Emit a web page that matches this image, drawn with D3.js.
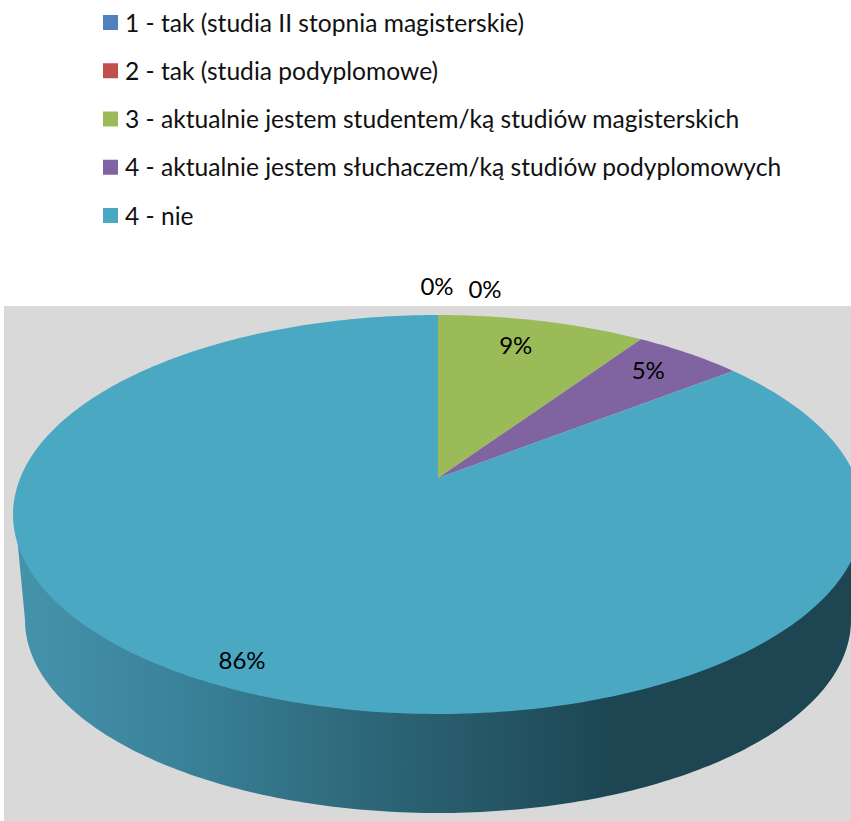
<!DOCTYPE html>
<html lang="pl">
<head>
    <meta charset="UTF-8">
    <title>Wykres kołowy</title>
    <script src="https://d3js.org/d3.v7.min.js"></script>
    <style>
        html, body { margin: 0; padding: 0; background: #fff; overflow: hidden; }
        svg { display: block; }
        text { font-family: Lato, "Open Sans", sans-serif; fill: #000; }
        .legend text { font-size: 24.6px; fill: #111; }
        .label { font-size: 24px; text-anchor: middle; }
    </style>
</head>
<body>
    <svg width="851" height="821"></svg>

    <script>
        // data
        const categories = [
            "1 - tak (studia II stopnia magisterskie)",
            "2 - tak (studia podyplomowe)",
            "3 - aktualnie jestem studentem/ką studiów magisterskich",
            "4 - aktualnie jestem słuchaczem/ką studiów podyplomowych",
            "4 - nie"
        ];
        const values = [0, 0, 9.45, 4.95, 85.6];
        const colors = ["#4f81bd", "#c0504d", "#9bbb59", "#8064a2", "#4aa8c3"];

        const svg = d3.select("svg");

        // legend
        const legendY = d3.scalePoint().domain(categories).range([22.5, 215.5]);
        const legend = svg.append("g").attr("class", "legend");
        categories.forEach((c, i) => {
            legend.append("rect")
                .attr("x", 103).attr("y", legendY(c) - 7.5)
                .attr("width", 15).attr("height", 15)
                .attr("fill", colors[i]);
            legend.append("text")
                .attr("x", 125).attr("y", legendY(c) + 9)
                .text(c);
        });

        // plot area
        svg.append("rect")
            .attr("x", 4).attr("y", 306)
            .attr("width", 847).attr("height", 515)
            .attr("fill", "#d9d9d9");

        // the pie is seen in perspective: the apex sits above the centre of the rim ellipse
        const cx = 438, apexY = 478;
        const k = -0.183, a = 417.8, b = 192.8;
        function project(t, r) {
            const X = r * Math.sin(t), Y = -r * Math.cos(t);
            const w = 1 + k * Y;
            return [cx + a * X / w, apexY + b * Y / w];
        }

        const line = d3.line();

        // side wall, its top tucked under the rim so no seam shows
        const rimCy = 515, rimRx = 423, rimRy = 198;
        const baseCy = 620, baseRx = 413, baseRy = 193;
        const sweep = d3.range(0, 181).map(d => d * Math.PI / 180);
        const wall = sweep.map(s => [cx + rimRx * Math.cos(s), rimCy + rimRy * Math.sin(s)])
            .concat(sweep.slice().reverse().map(s => [cx + baseRx * Math.cos(s), baseCy + baseRy * Math.sin(s)]));

        const grad = svg.append("defs").append("linearGradient")
            .attr("id", "wallFill")
            .attr("gradientUnits", "userSpaceOnUse")
            .attr("x1", 13).attr("x2", 851).attr("y1", 0).attr("y2", 0);
        [[0, "#4594ac"], [0.2, "#3a8299"], [0.4, "#2e6a7c"], [0.72, "#1d4552"], [1, "#1d4552"]].forEach(s => {
            grad.append("stop").attr("offset", s[0]).attr("stop-color", s[1]);
        });

        svg.append("path")
            .attr("d", line(wall) + "Z")
            .attr("fill", "url(#wallFill)");

        // top face
        const arcs = d3.pie().sort(null)(values);

        function slicePath(d) {
            const n = Math.max(2, Math.ceil((d.endAngle - d.startAngle) * 60));
            const rim = d3.range(n + 1).map(i => project(d.startAngle + (d.endAngle - d.startAngle) * i / n, 1));
            return line([project(0, 0)].concat(rim)) + "Z";
        }

        svg.selectAll(".slice")
            .data(arcs)
            .enter().append("path")
            .attr("class", "slice")
            .attr("d", slicePath)
            .attr("fill", (d, i) => colors[i]);

        // data labels, placed by radius along the middle of each slice
        const fmt = d3.format(".0%");
        const labelPlace = [
            { r: 1.12, dx: -1, dy: -12 },
            { r: 1.1, dx: 47, dy: -11 },
            { r: 0.8, dx: -8, dy: -3 },
            { r: 0.82, dx: 0, dy: -3 },
            { r: 0.9, dx: -3, dy: 0 }
        ];
        svg.selectAll(".label")
            .data(arcs)
            .enter().append("text")
            .attr("class", "label")
            .attr("x", (d, i) => project((d.startAngle + d.endAngle) / 2, labelPlace[i].r)[0] + labelPlace[i].dx)
            .attr("y", (d, i) => project((d.startAngle + d.endAngle) / 2, labelPlace[i].r)[1] + labelPlace[i].dy + 8)
            .text(d => fmt(d.value / 100));
    </script>
</body>
</html>
